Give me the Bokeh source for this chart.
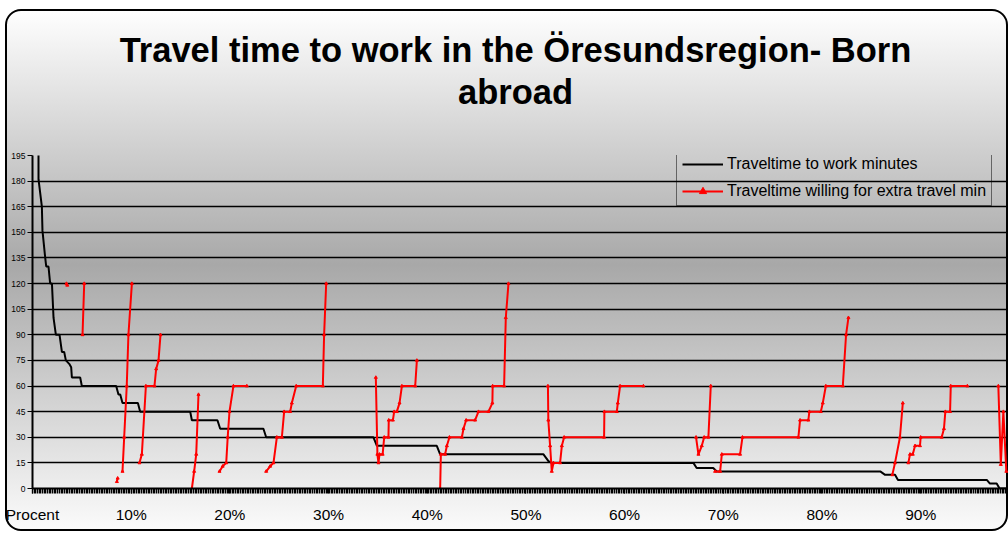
import numpy as np
from bokeh.plotting import figure
from bokeh.layouts import column
from bokeh.models import Range1d, FixedTicker, Legend, LegendItem, Div
from bokeh.embed import file_html
from bokeh.resources import INLINE

nan = float("nan")

# Black series: travel time to work (minutes), sorted, x = percent of people
travel_pct = [0.6, 0.61, 0.95, 1.01, 1.29, 1.39, 1.62, 1.79, 1.97, 2.13,
              2.37, 2.74, 2.98, 3.21, 3.38, 3.72, 3.92, 3.99, 4.83, 5.0,
              8.48, 8.71, 8.89, 9.12, 10.68, 10.91, 15.98, 16.15, 18.74, 19.02,
              23.4, 23.68, 34.55, 34.9, 40.97, 41.31, 51.78, 52.28, 52.62, 66.97,
              67.3, 68.98, 69.34, 85.9, 86.4, 87.4, 87.7, 96.7, 97.0, 97.7,
              98.0, 98.9]
travel_min = [240, 181, 165, 151, 135, 130, 130, 120, 120, 100,
              90, 90, 80, 80, 75, 73, 71, 65, 65, 60,
              60, 55, 55, 50, 50, 45, 45, 40, 40, 35,
              35, 30, 30, 25, 25, 20, 20, 16, 15, 15,
              12, 12, 10, 10, 8, 8, 5, 5, 3, 3,
              0, 0]

# Red series: travel time willing for extra travel (minutes); nan = missing values
willing_pct = [3.44, 3.52, nan,
               5.07, 5.24, nan,
               8.55, 8.63, nan,
               9.12, 9.29, 9.55, 9.72, 10.07, nan,
               10.84, 11.08, 11.49, 12.36, 12.53, 12.77, 12.97, nan,
               16.15, 16.38, 16.59, 16.82, nan,
               18.95, 19.27, 19.63, 19.78, 19.96, 20.36, 21.72, nan,
               23.68, 24.08, 24.42, 24.76, 25.27, 25.5, 26.11, 26.28, 26.72, 29.42, 29.55, 29.76, nan,
               34.79, 34.95, 35.06, 35.16, 35.48, 35.64, 36.07, 36.1, 36.52, 36.65, 36.92, 37.19, 37.43, 38.78, 38.95, nan,
               41.31, 41.38, 41.81, 41.99, 42.25, 43.51, 43.67, 43.94, 44.85, 45.19, 46.2, 46.6, 46.63, 47.79, 47.96, 48.23, nan,
               52.23, 52.27, 52.45, 52.62, 52.79, 53.46, 53.64, 53.87, 57.92, 57.95, 59.21, 59.31, 59.54, 61.9, nan,
               67.24, 67.48, 67.82, 68.06, 68.49, 68.73, nan,
               69.17, 69.68, 69.85, 71.7, 71.94, 77.61, 77.78, 78.62, 78.72, 79.88, 80.08, 80.39, 82.11, 82.44, 82.68, nan,
               87.13, 87.4, 87.9, 88.19, nan,
               88.75, 88.92, 89.2, 89.43, 89.93, 90.0, 92.13, 92.36, 92.5, 92.98, 93.05, 94.73, nan,
               97.87, 98.12, 98.38, 98.68]
willing_min = [120, 119, nan,
               90, 120, nan,
               4, 6, nan,
               10, 30, 60, 90, 120, nan,
               15, 20, 60, 60, 70, 75, 90, nan,
               0, 10, 20, 55, nan,
               10, 13, 15, 30, 45, 60, 60, nan,
               10, 13, 15, 30, 30, 45, 45, 50, 60, 60, 90, 120, nan,
               65, 20, 15, 20, 20, 30, 30, 40, 40, 45, 45, 50, 60, 60, 75, nan,
               0, 20, 20, 25, 30, 30, 35, 40, 40, 45, 45, 50, 60, 60, 100, 120, nan,
               60, 40, 25, 10, 15, 15, 25, 30, 30, 45, 45, 50, 60, 60, nan,
               30, 20, 25, 30, 30, 60, nan,
               10, 10, 20, 20, 30, 30, 40, 40, 45, 45, 50, 60, 60, 90, 100, nan,
               8, 15, 30, 50, nan,
               15, 20, 20, 25, 25, 30, 30, 35, 45, 45, 60, 60, nan,
               60, 14, 45, 10]

y_ticks = [0, 15, 30, 45, 60, 75, 90, 105, 120, 135, 150, 165, 180, 195]
x_label_pos = [0, 10, 20, 30, 40, 50, 60, 70, 80, 90]
x_labels = ["Procent", "10%", "20%", "30%", "40%", "50%", "60%", "70%", "80%", "90%"]
title_lines = ["Travel time to work in the Öresundsregion- Born", "abroad"]
series_names = ["Traveltime to work minutes", "Traveltime willing for extra travel min"]

FONT = "Liberation Sans"
TITLE_H = 120

title_div = Div(
    text=("<div style=\"font-family:'Liberation Sans',Arial,sans-serif;font-weight:bold;"
          "font-size:34.5px;line-height:42px;text-align:center;color:#000;"
          "width:1003px;padding-top:20px;position:relative;left:9px;white-space:nowrap;\">"
          + title_lines[0] + "<br>" + title_lines[1] + "</div>"),
    width=1003, height=TITLE_H, margin=0)

p = figure(width=1003, height=522 - TITLE_H, title=None,
           x_range=Range1d(0, 98.9), y_range=Range1d(0, 195),
           output_backend="svg", toolbar_location=None,
           min_border_left=27, min_border_right=0,
           min_border_top=146 - TITLE_H, min_border_bottom=43,
           background_fill_color=None, border_fill_color=None,
           outline_line_color=None, margin=0)

# y axis / grid
p.yaxis.ticker = FixedTicker(ticks=y_ticks)
p.ygrid.ticker = FixedTicker(ticks=y_ticks)
p.ygrid.grid_line_color = "black"
p.ygrid.grid_line_width = 1.4
p.xgrid.visible = False
p.yaxis.axis_line_color = "black"
p.yaxis.axis_line_width = 2
p.yaxis.major_tick_out = 5
p.yaxis.major_tick_in = 0
p.yaxis.minor_tick_out = 0
p.yaxis.minor_tick_in = 0
p.yaxis.major_tick_line_color = "black"
p.yaxis.major_label_standoff = 2
p.yaxis.major_label_text_font = FONT
p.yaxis.major_label_text_font_size = "8.5px"
p.yaxis.major_label_text_color = "black"

# x axis with dense category ticks
p.xaxis.ticker = FixedTicker(ticks=x_label_pos,
                             minor_ticks=[float(v) for v in np.arange(0, 98.9, 0.17)])
p.xaxis.major_label_overrides = {k: s for k, s in zip(x_label_pos, x_labels)}
p.xaxis.axis_line_color = "black"
p.xaxis.axis_line_width = 2
p.xaxis.major_tick_out = 5
p.xaxis.major_tick_in = 0
p.xaxis.minor_tick_out = 5
p.xaxis.minor_tick_in = 0
p.xaxis.major_tick_line_color = "black"
p.xaxis.minor_tick_line_color = "black"
p.xaxis.minor_tick_line_width = 1.4
p.xaxis.major_label_standoff = 12
p.xaxis.major_label_text_font = FONT
p.xaxis.major_label_text_font_size = "15.5px"
p.xaxis.major_label_text_color = "black"

# series
black = p.line(travel_pct, travel_min, line_color="black", line_width=2)
red_l = p.line(willing_pct, willing_min, line_color="#ff0000", line_width=2)
red_m = p.scatter(willing_pct, willing_min, marker="triangle", size=3,
                  fill_color="#ff0000", line_color="#ff0000")

legend = Legend(items=[LegendItem(label=series_names[0], renderers=[black]),
                       LegendItem(label=series_names[1], renderers=[red_l, red_m])],
                location=(644, 282), margin=0, padding=5, spacing=9,
                label_height=18, glyph_height=18, glyph_width=41,
                label_standoff=4, label_text_font=FONT,
                label_text_font_size="16px", label_text_color="black",
                background_fill_alpha=0, border_line_color="black",
                border_line_width=1.5)
p.add_layout(legend)

chart = column(title_div, p, spacing=0, margin=(9, 0, 0, 5),
               styles={
                   "background": "linear-gradient(to bottom, #ffffff 0%, #a8a8a8 49%, #fbfbfb 100%)",
                   "border-radius": "16px",
                   "box-shadow": "inset 0 0 0 2px #000000",
               })

open("out.html", "w").write(file_html(chart, INLINE))
